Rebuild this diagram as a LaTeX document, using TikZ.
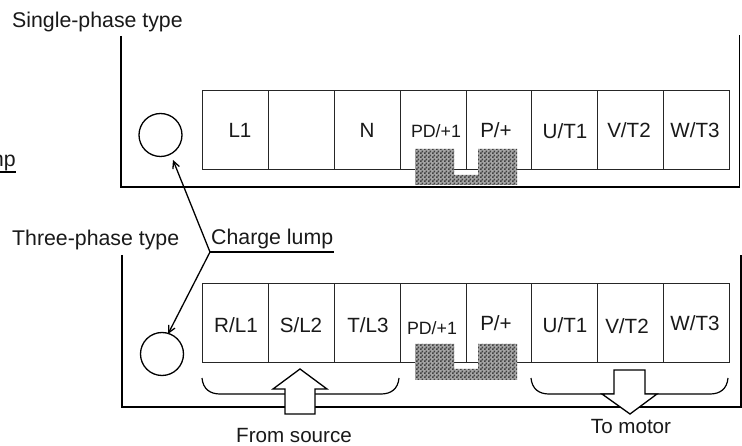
\documentclass[tikz,border=0pt]{standalone}
\usepackage{fontspec}
\setmainfont{Liberation Sans}
\usetikzlibrary{arrows.meta,patterns}
\pgfdeclarepatternformonly{chk}{\pgfpointorigin}{\pgfpoint{4pt}{4pt}}{\pgfpoint{4pt}{4pt}}{%
  \pgfpathrectangle{\pgfpointorigin}{\pgfpoint{2pt}{2pt}}%
  \pgfpathrectangle{\pgfpoint{2pt}{2pt}}{\pgfpoint{2pt}{2pt}}%
  \pgfusepath{fill}}
\tikzset{
  cell/.style={draw=black!85,line width=1pt,minimum width=65.9pt,minimum height=79pt,inner sep=0pt,anchor=north west},
  lbl/.style={font=\fontsize{20.6pt}{24pt}\selectfont,inner sep=0pt,text=black!90},
  ttl/.style={font=\fontsize{21.3pt}{24pt}\selectfont,inner sep=0pt,text=black!90},
  small/.style={font=\fontsize{17.8pt}{20pt}\selectfont,inner sep=0pt,text=black!90},
  frame/.style={line width=1.6pt},
  lump/.style={circle,draw,line width=1.3pt,minimum size=43pt,inner sep=0pt},
  leader/.style={line width=1.3pt,-{Straight Barb[length=7pt,width=7pt]}},
  brace/.style={line width=1.2pt},
  bigarrow/.style={draw,fill=white,line width=1.3pt},
  bar/.style={fill=black!35,postaction={pattern=chk,pattern color=black!75}}
}
\begin{document}
\begin{tikzpicture}[x=1pt,y=-1pt]
\useasboundingbox (0,0) rectangle (742,446);
\fill[white] (0,0) rectangle (742,446);
% frames
\draw[frame] (121,36) -- (121,187) -- (739.5,187) -- (739.5,35);
\draw[frame] (122,255) -- (122,407) -- (741,407) -- (741,255);
% terminals
\foreach \i/\x in {1/202,2/268,3/334,4/399.6,5/465.5,6/531.4,7/597.3,8/663.2}{
  \node[cell,fill=none] (t\i) at (\x,90) {};
  \node[cell,fill=none] (b\i) at (\x,283) {};
}
% shaded links
\path[bar] (415,149) -- (454,149) -- (454,175) -- (478,175) -- (478,149) -- (517,149) -- (517,185) -- (415,185) -- cycle;
\path[bar] (415,344) -- (454,344) -- (454,369) -- (478,369) -- (478,344) -- (517,344) -- (517,380) -- (415,380) -- cycle;
% labels
\node[lbl] (tl1) at (240,130) {L1};
\node[lbl] (tln) at (367,130) {N};
\node[small] (tlpd) at (436,131) {PD/+1};
\node[lbl] (tlp) at (496,130) {P/+};
\node[lbl] (tlu) at (565,131) {U/T1};
\node[lbl] (tlv) at (629,130) {V/T2};
\node[lbl] (tlw) at (695,130) {W/T3};
\node[lbl] (blr) at (236,325) {R/L1};
\node[lbl] (bls) at (301,325) {S/L2};
\node[lbl] (blt) at (368,325) {T/L3};
\node[small] (blpd) at (432,328) {PD/+1};
\node[lbl] (blp) at (496,323) {P/+};
\node[lbl] (blu) at (565,325) {U/T1};
\node[lbl] (blv) at (627,326) {V/T2};
\node[lbl] (blw) at (695,323) {W/T3};
% lumps
\node[lump] (c1) at (160.5,135) {};
\node[lump] (c2) at (162,354) {};
% charge lump
\node[ttl,anchor=base west] (cl) at (211,245) {Charge lump};
\coordinate (elbow) at (210,252);
\coordinate (cend) at (334,252);
\coordinate (tipa) at (173,160);
\coordinate (tipb) at (168,334);
\draw[line width=1.3pt] (elbow) -- (cend);
\draw[leader] (elbow) -- (tipa);
\draw[leader] (elbow) -- (tipb);
% titles
\node[ttl,anchor=base west] (st) at (12,28) {Single-phase type};
\node[ttl,anchor=base west] (tt) at (12,245.5) {Three-phase type};
\begin{scope}
\clip (0,0) rectangle (742,446);
\node[ttl,anchor=base east] (frag) at (16,167) {mp};
\coordinate (fa) at (0,172);
\coordinate (fb) at (16,172);
\draw[line width=1.3pt] (fa) -- (fb);
\end{scope}
% braces
\draw[brace] (202,378) .. controls (203,389) and (210,394) .. (220,394) -- (381,394) .. controls (391,394) and (398,389) .. (399,378);
\draw[brace] (531,378) .. controls (532,389) and (539,394) .. (549,394) -- (710,394) .. controls (720,394) and (727,389) .. (728,378);
% big arrows
\draw[bigarrow] (300,369) -- (327,389) -- (315,389) -- (315,414) -- (285,414) -- (285,389) -- (273,389) -- cycle;
\draw[bigarrow] (630,414) -- (657,394) -- (645,394) -- (645,370) -- (614,370) -- (614,394) -- (602,394) -- cycle;
\node[lbl] (fs) at (294,436) {From source};
\node[lbl] (tm) at (631,427) {To motor};
\end{tikzpicture}
\end{document}
